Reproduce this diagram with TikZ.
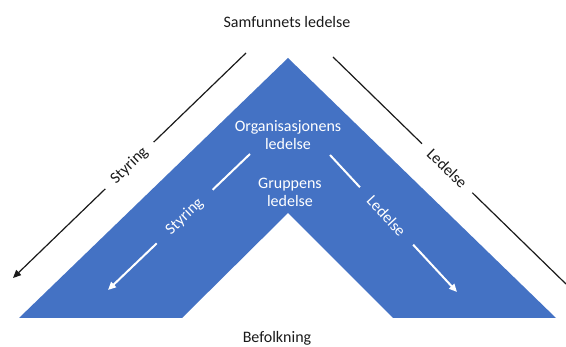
\documentclass[tikz,border=0pt]{standalone}
\usepackage{fontspec}
\setmainfont{Carlito}
\usetikzlibrary{arrows.meta}
\definecolor{obl}{HTML}{4472C4}
\definecolor{ink}{HTML}{1A1A1A}
\begin{document}
\begin{tikzpicture}[x=1pt,y=-1pt,
  txt/.style={font=\fontsize{16}{18.5}\selectfont, inner sep=0pt, align=center},
  outerline/.style={draw=ink, line width=1.2pt},
  innerline/.style={draw=white, line width=2pt},
  tipb/.style={-{Triangle[length=8pt,width=7pt]}},
  outlbl/.style={sloped, fill=white, text=ink, font=\fontsize{16}{18}\selectfont, inner ysep=4pt},
  inlbl/.style={sloped, text=white, font=\fontsize{16}{18}\selectfont, inner ysep=3pt}
]
\useasboundingbox (0,0) rectangle (566,347);
% blue chevron
\fill[obl] (19,318) -- (288,58) -- (556,318) -- (393,318) -- (288,213) -- (182,318) -- cycle;
% texts
\node[txt, anchor=base, text=ink] (top) at (287,28) {Samfunnets ledelse};
\node[txt, anchor=base, text=ink] (bot) at (277,343) {Befolkning};
\node[txt, anchor=base, text=white] (org) at (288,150) {Organisasjonens\\ledelse};
\node[txt, anchor=base, text=white] (grp) at (290,207) {Gruppens\\ledelse};
% outer lines
\coordinate (oL1) at (246,53);
\coordinate (oL2) at (13,278);
\coordinate (oR1) at (333,57);
\coordinate (oR2) at (566,284);
\draw[outerline, tipb] (oL1) -- node[outlbl, pos=0.5, inner xsep=11pt] (lblS) {Styring} (oL2);
\draw[outerline] (oR1) -- node[outlbl, pos=0.49, inner xsep=10.5pt] (lblL) {Ledelse} (oR2);
% inner white lines
\coordinate (iL1) at (250,154);
\coordinate (iL2) at (108,290);
\coordinate (iR1) at (330,155);
\coordinate (iR2) at (457,292);
\draw[innerline, tipb] (iL1) -- node[inlbl, pos=0.46, fill=obl, inner xsep=16pt] (ilS) {Styring} (iL2);
\draw[innerline, tipb] (iR1) -- node[inlbl, pos=0.445, fill=obl, inner xsep=14.5pt] (ilL) {Ledelse} (iR2);
\end{tikzpicture}
\end{document}
